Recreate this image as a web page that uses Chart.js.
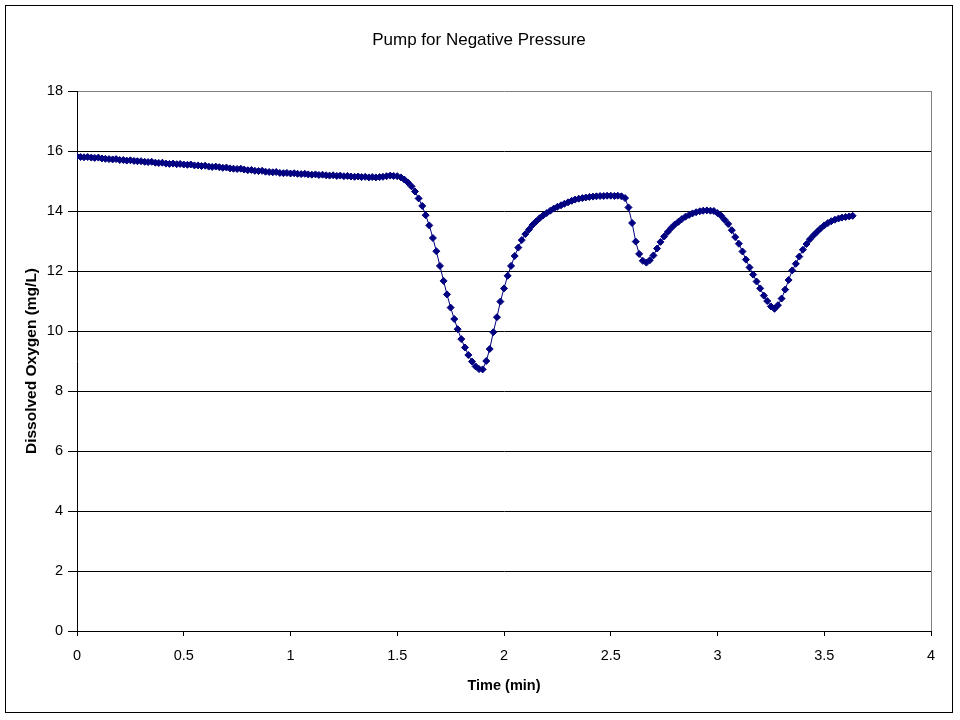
<!DOCTYPE html>
<html>
<head>
<meta charset="utf-8">
<title>Pump for Negative Pressure</title>
<script src="https://cdn.jsdelivr.net/npm/chart.js@4.4.0/dist/chart.umd.min.js"></script>
<style>
    body { margin: 0; background: #fff; }
    canvas { display: block; }
</style>
</head>
<body>
<canvas id="GraficoOxigenio" width="960" height="720"></canvas>
<script>
/* tempo em minutos (1 leitura por segundo) */
var tempos = [
    0.00, 0.017, 0.033, 0.05, 0.067, 0.083,
    0.10, 0.117, 0.133, 0.15, 0.167, 0.183,
    0.20, 0.217, 0.233, 0.25, 0.267, 0.283,
    0.30, 0.317, 0.333, 0.35, 0.367, 0.383,
    0.40, 0.417, 0.433, 0.45, 0.467, 0.483,
    0.50, 0.517, 0.533, 0.55, 0.567, 0.583,
    0.60, 0.617, 0.633, 0.65, 0.667, 0.683,
    0.70, 0.717, 0.733, 0.75, 0.767, 0.783,
    0.80, 0.817, 0.833, 0.85, 0.867, 0.883,
    0.90, 0.917, 0.933, 0.95, 0.967, 0.983,
    1.00, 1.017, 1.033, 1.05, 1.067, 1.083,
    1.10, 1.117, 1.133, 1.15, 1.167, 1.183,
    1.20, 1.217, 1.233, 1.25, 1.267, 1.283,
    1.30, 1.317, 1.333, 1.35, 1.367, 1.383,
    1.40, 1.417, 1.433, 1.45, 1.467, 1.483,
    1.50, 1.517, 1.533, 1.55, 1.567, 1.583,
    1.60, 1.617, 1.633, 1.65, 1.667, 1.683,
    1.70, 1.717, 1.733, 1.75, 1.767, 1.783,
    1.80, 1.817, 1.833, 1.85, 1.867, 1.883,
    1.90, 1.917, 1.933, 1.95, 1.967, 1.983,
    2.00, 2.017, 2.033, 2.05, 2.067, 2.083,
    2.10, 2.117, 2.133, 2.15, 2.167, 2.183,
    2.20, 2.217, 2.233, 2.25, 2.267, 2.283,
    2.30, 2.317, 2.333, 2.35, 2.367, 2.383,
    2.40, 2.417, 2.433, 2.45, 2.467, 2.483,
    2.50, 2.517, 2.533, 2.55, 2.567, 2.583,
    2.60, 2.617, 2.633, 2.65, 2.667, 2.683,
    2.70, 2.717, 2.733, 2.75, 2.767, 2.783,
    2.80, 2.817, 2.833, 2.85, 2.867, 2.883,
    2.90, 2.917, 2.933, 2.95, 2.967, 2.983,
    3.00, 3.017, 3.033, 3.05, 3.067, 3.083,
    3.10, 3.117, 3.133, 3.15, 3.167, 3.183,
    3.20, 3.217, 3.233, 3.25, 3.267, 3.283,
    3.30, 3.317, 3.333, 3.35, 3.367, 3.383,
    3.40, 3.417, 3.433, 3.45, 3.467, 3.483,
    3.50, 3.517, 3.533, 3.55, 3.567, 3.583,
    3.60, 3.617, 3.633
];

/* oxigenio dissolvido (mg/L) */
var oxigenio = [
    15.82, 15.80, 15.79, 15.80, 15.78, 15.77, 15.78, 15.75, 15.74, 15.73,
    15.72, 15.73, 15.70, 15.70, 15.68, 15.69, 15.67, 15.66, 15.66, 15.64,
    15.63, 15.64, 15.61, 15.60, 15.61, 15.58, 15.57, 15.58, 15.56, 15.57,
    15.55, 15.54, 15.55, 15.52, 15.52, 15.50, 15.51, 15.48, 15.47, 15.48,
    15.46, 15.44, 15.45, 15.42, 15.41, 15.40, 15.41, 15.38, 15.36, 15.37,
    15.34, 15.33, 15.34, 15.31, 15.30, 15.29, 15.30, 15.27, 15.26, 15.27,
    15.25, 15.26, 15.24, 15.23, 15.24, 15.22, 15.21, 15.22, 15.20, 15.21,
    15.19, 15.18, 15.19, 15.17, 15.18, 15.16, 15.17, 15.15, 15.14, 15.15,
    15.13, 15.14, 15.12, 15.13, 15.12, 15.13, 15.14, 15.16, 15.18, 15.17,
    15.16, 15.12, 15.05, 14.95, 14.82, 14.65, 14.42, 14.17, 13.86, 13.52,
    13.10, 12.66, 12.17, 11.67, 11.22, 10.78, 10.40, 10.06, 9.73, 9.45,
    9.20, 8.98, 8.82, 8.73, 8.72, 9.00, 9.40, 9.96, 10.46, 10.98,
    11.42, 11.84, 12.17, 12.50, 12.78, 13.03, 13.23, 13.38, 13.53, 13.65,
    13.76, 13.85, 13.93, 14.01, 14.08, 14.14, 14.19, 14.24, 14.29, 14.34,
    14.38, 14.41, 14.43, 14.45, 14.47, 14.48, 14.49, 14.50, 14.50, 14.51,
    14.51, 14.50, 14.51, 14.49, 14.43, 14.12, 13.60, 12.98, 12.57, 12.34,
    12.28, 12.36, 12.52, 12.75, 12.97, 13.15, 13.30, 13.43, 13.55, 13.64,
    13.73, 13.81, 13.87, 13.92, 13.96, 13.99, 14.01, 14.02, 14.01, 14.00,
    13.93, 13.84, 13.71, 13.57, 13.36, 13.13, 12.91, 12.65, 12.38, 12.12,
    11.88, 11.65, 11.42, 11.18, 11.00, 10.82, 10.74, 10.86, 11.08, 11.38,
    11.70, 12.02, 12.24, 12.48, 12.71, 12.90, 13.06, 13.19, 13.31, 13.42,
    13.52, 13.60, 13.66, 13.71, 13.75, 13.78, 13.80, 13.82, 13.84
];

var tituloGrafico = 'Pump for Negative Pressure';
var tituloX = 'Time (min)';
var tituloY = 'Dissolved Oxygen (mg/L)';

var pontos = tempos.map(function (t, i) {
    return { x: t, y: oxigenio[i] };
});

var fonte = "Arial, 'Liberation Sans', sans-serif";

/* moldura, titulo e borda cinza do lado direito */
var molduraPlugin = {
    id: 'moldura',
    beforeDraw: function (chart) {
        var ctx = chart.ctx;
        ctx.save();
        ctx.fillStyle = '#fff';
        ctx.fillRect(0, 0, chart.width, chart.height);
        ctx.restore();
    },
    afterDraw: function (chart) {
        var ctx = chart.ctx;
        var area = chart.chartArea;
        ctx.save();
        ctx.strokeStyle = '#000';
        ctx.lineWidth = 1;
        ctx.strokeRect(5.5, 5.5, 947, 707);

        ctx.strokeStyle = '#808080';
        ctx.beginPath();
        ctx.moveTo(Math.round(area.right) + 0.5, area.top);
        ctx.lineTo(Math.round(area.right) + 0.5, area.bottom);
        ctx.stroke();

        ctx.fillStyle = '#000';
        ctx.font = '17px ' + fonte;
        ctx.textAlign = 'center';
        ctx.textBaseline = 'middle';
        ctx.fillText(tituloGrafico, 479, 40);
        ctx.restore();
    }
};

var ctx = document.getElementById('GraficoOxigenio').getContext('2d');

var grafico = new Chart(ctx, {
    type: 'scatter',
    data: {
        datasets: [{
            label: 'Dissolved Oxygen',
            data: pontos,
            showLine: true,
            borderColor: '#000080',
            backgroundColor: '#000080',
            borderWidth: 1,
            pointStyle: 'rectRot',
            pointRadius: 3.5,
            pointBorderWidth: 1,
            pointBorderColor: '#000080',
            pointBackgroundColor: '#000080',
            tension: 0
        }]
    },
    options: {
        responsive: false,
        animation: false,
        devicePixelRatio: 1,
        layout: {
            padding: { top: 91, right: 29, bottom: 0, left: 0 }
        },
        plugins: {
            legend: { display: false },
            tooltip: { enabled: false },
            title: { display: false }
        },
        scales: {
            x: {
                type: 'linear',
                min: 0,
                max: 4,
                afterFit: function (scale) { scale.height = 89; },
                ticks: {
                    stepSize: 0.5,
                    padding: 11,
                    color: '#000',
                    font: { family: fonte, size: 14.5 },
                    maxRotation: 0,
                    callback: function (v) { return String(v); }
                },
                grid: {
                    drawOnChartArea: false,
                    drawTicks: true,
                    tickLength: 5,
                    tickColor: '#000'
                },
                border: { color: '#000', width: 1 },
                title: {
                    display: true,
                    text: tituloX,
                    color: '#000',
                    font: { family: fonte, size: 14.5, weight: 'bold' },
                    padding: { top: 0, bottom: 25 }
                }
            },
            y: {
                min: 0,
                max: 18,
                afterFit: function (scale) { scale.width = 77; },
                ticks: {
                    stepSize: 2,
                    padding: 5,
                    color: '#000',
                    font: { family: fonte, size: 14.5 },
                    callback: function (v) { return String(v); }
                },
                grid: {
                    color: function (c) {
                        return c.tick && c.tick.value === 18 ? '#808080' : '#000';
                    },
                    tickColor: '#000',
                    tickLength: 9,
                    lineWidth: 1
                },
                border: { color: '#000', width: 1 },
                title: {
                    display: true,
                    text: tituloY,
                    color: '#000',
                    font: { family: fonte, size: 15.5, weight: 'bold' },
                    padding: { top: 22, bottom: 0 }
                }
            }
        }
    },
    plugins: [molduraPlugin]
});
</script>
</body>
</html>
